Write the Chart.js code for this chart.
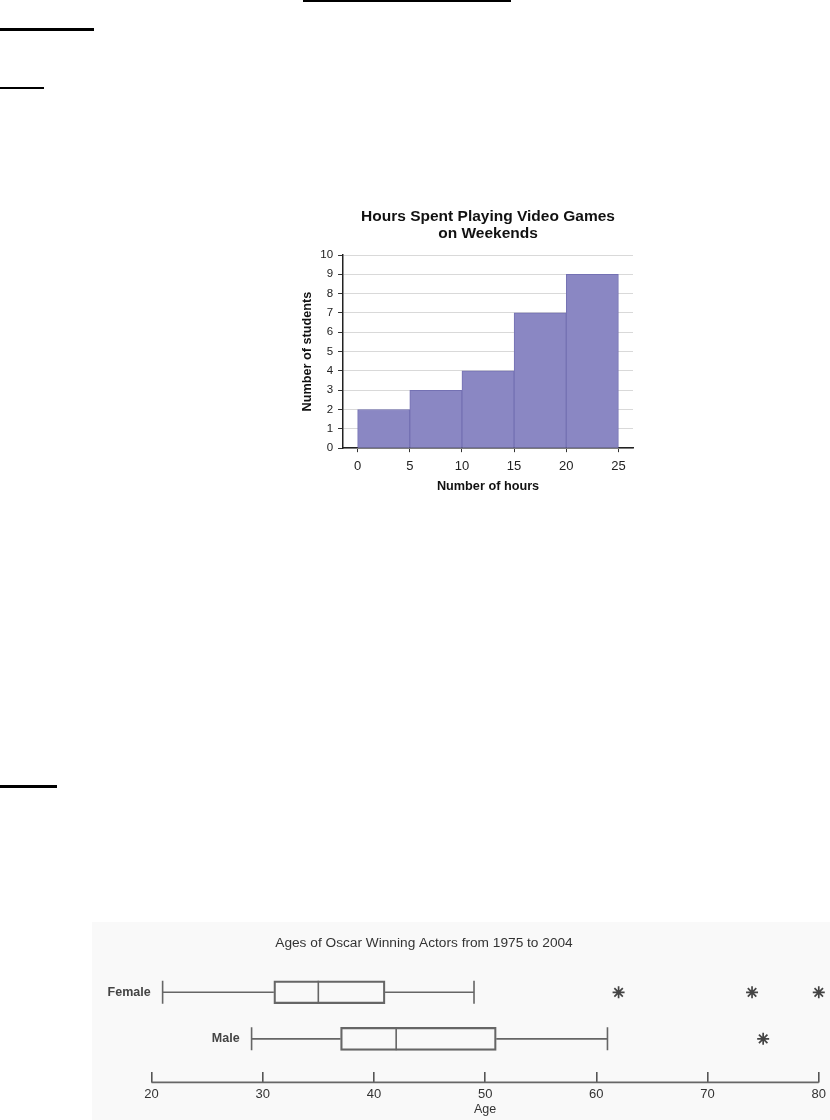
<!DOCTYPE html>
<html lang="en">
    <head>
        <meta charset="utf-8" />
        <title>Histogram and box plot</title>
        <style>
            body { margin: 0; width: 830px; height: 1120px; background: #fff; position: relative; overflow: hidden; }
            .rule { position: absolute; background: #000; }
            #histWrap { position: absolute; left: 290px; top: 200px; width: 360px; height: 300px; }
            #boxWrap { position: absolute; left: 92px; top: 922px; width: 738px; height: 198px; background: #f9f9f9; }
        </style>
    </head>
    <body>
        <!-- underlines left over from the page headings -->
        <div class="rule" style="left:303px; top:0px; width:208px; height:2px;"></div>
        <div class="rule" style="left:0px; top:28px; width:94px; height:3px;"></div>
        <div class="rule" style="left:0px; top:87px; width:44px; height:2px;"></div>
        <div class="rule" style="left:0px; top:785px; width:57px; height:3px;"></div>

        <div id="histWrap"><canvas id="hoursHistogram"></canvas></div>
        <div id="boxWrap"><canvas id="oscarBoxPlot"></canvas></div>

        <script src="https://cdn.jsdelivr.net/npm/chart.js"></script>
        <script>
            // histogram data
            const histTitle = ['Hours Spent Playing Video Games', 'on Weekends'];
            const binStarts = [0, 5, 10, 15, 20];
            const binWidth = 5;
            const studentCounts = [2, 3, 4, 7, 9];
            const hourTicks = [0, 5, 10, 15, 20, 25];

            // box plot data
            const boxTitle = 'Ages of Oscar Winning Actors from 1975 to 2004';
            const groups = ['Female', 'Male'];
            const minAges = [21, 29];
            const q1Ages = [31, 37];
            const medianAges = [35, 42];
            const q3Ages = [41, 51];
            const maxAges = [49, 61];
            const femaleOutliers = [62, 74, 80];
            const maleOutliers = [75];
            const ageTicks = [20, 30, 40, 50, 60, 70, 80];

            Chart.defaults.font.family = "'Liberation Sans', Arial, sans-serif";

            // title centred over the plot area rather than the whole canvas
            const histTitlePlugin = {
                id: 'histTitle',
                afterDraw(chart) {
                    const { ctx, chartArea } = chart;
                    const cx = (chartArea.left + chartArea.right) / 2;
                    ctx.save();
                    ctx.fillStyle = '#111';
                    ctx.font = "bold 15.5px 'Liberation Sans', Arial, sans-serif";
                    ctx.textAlign = 'center';
                    ctx.textBaseline = 'middle';
                    histTitle.forEach((line, i) => ctx.fillText(line, cx, 17 + i * 16.5));
                    ctx.restore();
                }
            };

            const histCtx = document.getElementById('hoursHistogram');
            new Chart(histCtx, {
                type: 'bar',
                data: {
                    datasets: [{
                        data: binStarts.map((s, i) => ({ x: s + binWidth / 2, y: studentCounts[i] })),
                        backgroundColor: '#8a87c3',
                        borderColor: '#7471b3',
                        borderWidth: 1,
                        barPercentage: 1,
                        categoryPercentage: 1
                    }]
                },
                options: {
                    responsive: true,
                    maintainAspectRatio: false,
                    animation: false,
                    layout: { padding: { left: 10, right: 17, top: 55, bottom: 6 } },
                    plugins: {
                        legend: { display: false },
                        tooltip: { enabled: false },
                        title: { display: false }
                    },
                    scales: {
                        x: {
                            type: 'linear',
                            offset: false,
                            min: -1.4,
                            max: 26.4,
                            afterBuildTicks: (scale) => { scale.ticks = hourTicks.map(v => ({ value: v })); },
                            grid: { drawOnChartArea: false, drawTicks: true, tickLength: 4, tickColor: '#333', offset: false },
                            border: { display: true, color: '#222', width: 1.5 },
                            ticks: { color: '#222', font: { size: 13 }, padding: 6 },
                            title: {
                                display: true,
                                text: 'Number of hours',
                                color: '#111',
                                font: { size: 12.7, weight: 'bold' },
                                padding: { top: -1, bottom: 0 }
                            }
                        },
                        y: {
                            min: 0,
                            max: 10,
                            ticks: { stepSize: 1, color: '#222', font: { size: 11.5 }, padding: 5 },
                            grid: { color: '#d9d9d9', tickColor: '#333', tickLength: 5 },
                            border: { display: true, color: '#222', width: 1.5 },
                            title: {
                                display: true,
                                text: 'Number of students',
                                color: '#111',
                                font: { size: 12.7, weight: 'bold' },
                                padding: { top: 0, bottom: 0 }
                            }
                        }
                    }
                },
                plugins: [histTitlePlugin]
            });

            // whiskers, caps, medians, group names and title, placed with the chart's scales
            const boxHalf = 11.5;
            const boxParts = {
                id: 'boxParts',
                afterDatasetsDraw(chart) {
                    const { ctx, scales: { x, y } } = chart;
                    ctx.save();
                    ctx.strokeStyle = '#666';
                    ctx.lineWidth = 1.6;
                    groups.forEach((g, i) => {
                        const py = y.getPixelForValue(i);
                        ctx.beginPath();
                        ctx.moveTo(x.getPixelForValue(minAges[i]), py);
                        ctx.lineTo(x.getPixelForValue(q1Ages[i]), py);
                        ctx.moveTo(x.getPixelForValue(q3Ages[i]), py);
                        ctx.lineTo(x.getPixelForValue(maxAges[i]), py);
                        [minAges[i], maxAges[i]].forEach(v => {
                            ctx.moveTo(x.getPixelForValue(v), py - boxHalf);
                            ctx.lineTo(x.getPixelForValue(v), py + boxHalf);
                        });
                        const pm = x.getPixelForValue(medianAges[i]);
                        ctx.moveTo(pm, py - boxHalf);
                        ctx.lineTo(pm, py + boxHalf);
                        ctx.stroke();

                        ctx.fillStyle = '#444';
                        ctx.font = "bold 12.5px 'Liberation Sans', Arial, sans-serif";
                        ctx.textAlign = 'right';
                        ctx.textBaseline = 'middle';
                        ctx.fillText(g, x.getPixelForValue(minAges[i]) - 12, py);
                    });
                    // axis line under the upward tick marks
                    const axisY = x.top + x.options.grid.tickLength;
                    ctx.beginPath();
                    ctx.moveTo(x.left, axisY);
                    ctx.lineTo(x.right, axisY);
                    ctx.stroke();

                    // title sits left of the plot centre, as in the source figure
                    ctx.fillStyle = '#333';
                    ctx.font = "13.7px 'Liberation Sans', Arial, sans-serif";
                    ctx.textAlign = 'center';
                    ctx.textBaseline = 'middle';
                    ctx.fillText(boxTitle, 332, 21);
                    ctx.restore();
                }
            };

            const boxCtx = document.getElementById('oscarBoxPlot');
            new Chart(boxCtx, {
                type: 'bar',
                data: {
                    datasets: [{
                        data: groups.map((g, i) => ({ x: [q1Ages[i], q3Ages[i]], y: i })),
                        backgroundColor: 'rgba(255,255,255,0)',
                        borderColor: '#666',
                        borderWidth: 1.6,
                        borderSkipped: false,
                        barThickness: boxHalf * 2
                    }, {
                        type: 'scatter',
                        data: femaleOutliers.map(v => ({ x: v, y: 0 }))
                            .concat(maleOutliers.map(v => ({ x: v, y: 1 }))),
                        pointStyle: 'star',
                        pointRadius: 6,
                        borderColor: '#444',
                        borderWidth: 1.7,
                        backgroundColor: '#444',
                        clip: false
                    }]
                },
                options: {
                    indexAxis: 'y',
                    responsive: true,
                    maintainAspectRatio: false,
                    animation: false,
                    layout: { padding: { left: 59.5, right: 8, top: 47, bottom: 0 } },
                    plugins: {
                        legend: { display: false },
                        tooltip: { enabled: false },
                        title: { display: false }
                    },
                    scales: {
                        x: {
                            type: 'linear',
                            offset: false,
                            min: 20,
                            max: 80,
                            afterBuildTicks: (scale) => { scale.ticks = ageTicks.map(v => ({ value: v })); },
                            grid: { drawOnChartArea: false, drawTicks: true, tickLength: 10, color: '#555', lineWidth: 1.6, offset: false },
                            border: { display: false },
                            ticks: { color: '#333', font: { size: 13 }, padding: 4 },
                            title: {
                                display: true,
                                text: 'Age',
                                color: '#333',
                                font: { size: 12.5 },
                                padding: { top: -4, bottom: 3 }
                            }
                        },
                        y: {
                            type: 'linear',
                            display: false,
                            offset: false,
                            reverse: true,
                            min: -0.5,
                            max: 1.72,
                            afterBuildTicks: (scale) => { scale.ticks = groups.map((g, i) => ({ value: i })); }
                        }
                    }
                },
                plugins: [boxParts]
            });
        </script>
    </body>
</html>
